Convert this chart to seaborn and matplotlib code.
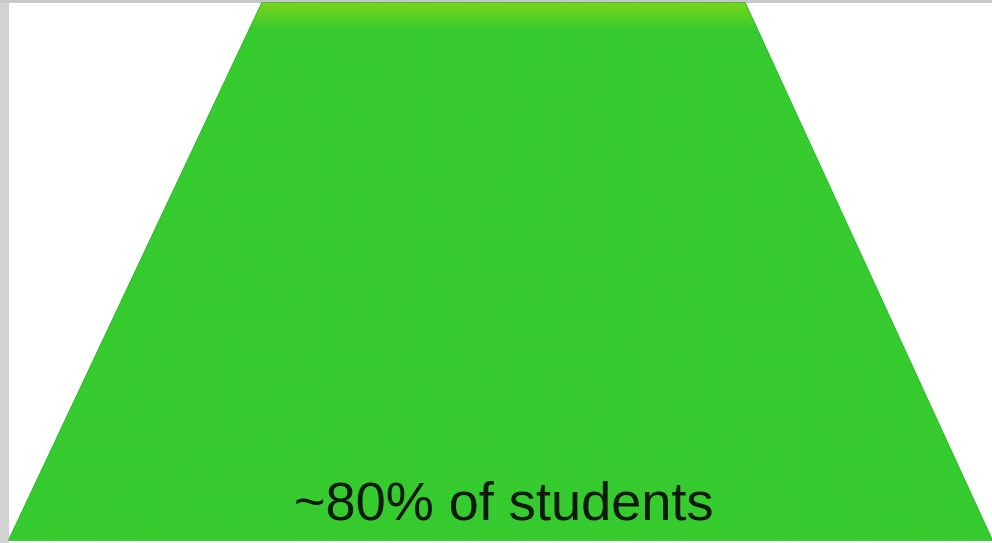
import numpy as np
import matplotlib.pyplot as plt
import matplotlib.patches as mpatches
import matplotlib.colors as mcolors
import seaborn as sns

sns.set_theme(style="white")
plt.rcParams['font.family'] = ['Liberation Sans', 'DejaVu Sans']

# one tier of the pyramid (the bottom tier, cropped)
tier_labels = ["~80% of students"]
tier_bottom_width = [983]
tier_top_width = [483]
tier_color = "#36cb2e"
tier_top_color = "#78d41c"

fig = plt.figure(figsize=(9.92, 5.43), dpi=100)
fig.patch.set_facecolor("white")
ax = fig.add_axes([0, 0, 1, 1])
ax.set_xlim(0, 992)
ax.set_ylim(543, 0)
ax.axis("off")

# frame strips of the screenshot
ax.add_patch(mpatches.Rectangle((0, 0), 9, 543, color="#d2d2d2", lw=0))
ax.add_patch(mpatches.Rectangle((0, 0), 992, 3, color="#c8c8c8", lw=0))

cx_top, cx_bot = 503.5, 500.5
y_top, y_bot = 3, 540
for lab, wb, wt in zip(tier_labels, tier_bottom_width, tier_top_width):
    xs = [cx_top - wt / 2, cx_top + wt / 2, cx_bot + wb / 2, cx_bot - wb / 2]
    ys = [y_top, y_top, y_bot, y_bot]
    poly = ax.fill(xs, ys, color=tier_color, lw=1.2, ec="#26bb22", zorder=2)[0]

    # light band fading at the top of the tier
    grad = np.linspace(0, 1, 512).reshape(-1, 1)
    c0 = np.array(mcolors.to_rgb(tier_top_color))
    c1 = np.array(mcolors.to_rgb(tier_color))
    t = np.clip(grad / 0.05, 0, 1)
    img = c0 * (1 - t[..., None]) + c1 * t[..., None]
    im = ax.imshow(img, extent=(cx_bot - wb / 2, cx_bot + wb / 2, y_bot, y_top),
                   aspect="auto", zorder=3, interpolation="bilinear")
    im.set_clip_path(poly)

    ax.text(504, 506, lab, ha="center", va="center",
            fontsize=39, color="#0c1a0a", zorder=4)

fig.savefig("out.png", dpi=100)
